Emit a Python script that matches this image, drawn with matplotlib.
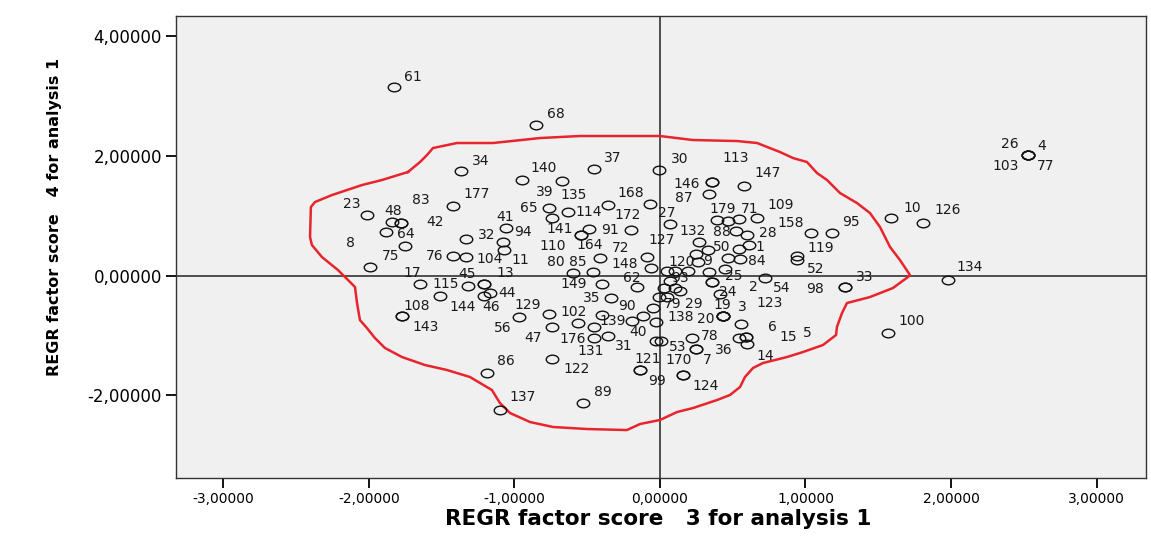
import numpy as np
import matplotlib.pyplot as plt
from matplotlib.path import Path
from matplotlib.transforms import Affine2D
from matplotlib.ticker import FixedLocator, FuncFormatter

# case numbers and their REGR factor scores (3 on x, 4 on y)
case_ids = ["61", "68", "34", "140", "39", "37", "30", "113", "146", "87", "147",
            "26", "4", "103", "77", "10", "126", "134", "100", "33", "98", "95",
            "158", "119", "52", "109", "71", "179", "88", "28", "132", "27", "127",
            "50", "1", "120", "9", "84", "25", "93", "2", "54", "24", "79", "29",
            "19", "3", "20", "123", "6", "138", "78", "15", "5", "14", "36", "7",
            "170", "124", "53", "40", "121", "99", "23", "48", "83", "42", "8",
            "64", "75", "17", "45", "115", "144", "46", "13", "44", "108", "143",
            "177", "76", "104", "32", "41", "94", "11", "65", "135", "114", "141",
            "164", "110", "168", "172", "91", "72", "80", "85", "148", "149", "62",
            "35", "90", "56", "129", "102", "139", "47", "176", "131", "31", "86",
            "122", "137", "89"]
score3 = [-1.83, -0.85, -1.37, -0.95, -0.67, -0.45, -0.01, 0.36, 0.36, 0.34, 0.58,
          2.53, 2.53, 2.53, 2.53, 1.59, 1.81, 1.98, 1.57, 1.27, 1.27, 1.18,
          1.04, 0.94, 0.94, 0.67, 0.54, 0.39, 0.52, 0.60, 0.27, 0.07, -0.09,
          0.33, 0.61, 0.25, 0.26, 0.55, 0.36, 0.07, 0.36, 0.72, 0.41, -0.05, 0.14,
          0.43, 0.43, 0.43, 0.43, 0.56, -0.03, 0.22, 0.59, 0.59, 0.60, 0.25, 0.25,
          0.16, 0.16, 0.01, -0.03, -0.14, -0.14, -2.01, -1.84, -1.78, -1.78, -1.88,
          -1.75, -1.99, -1.65, -1.32, -1.51, -1.21, -1.17, -1.21, -1.21, -1.77, -1.77,
          -1.42, -1.42, -1.33, -1.33, -1.06, -1.08, -1.07, -0.76, -0.74, -0.63, -0.49,
          -0.54, -0.54, -0.36, -0.07, -0.20, -0.41, -0.60, -0.46, -0.06, -0.40, -0.16,
          -0.34, -0.12, -0.97, -0.76, -0.40, -0.19, -0.74, -0.45, -0.45, -0.36, -1.19,
          -0.74, -1.10, -0.53]
score4 = [3.15, 2.52, 1.75, 1.60, 1.58, 1.78, 1.76, 1.56, 1.56, 1.36, 1.50,
          2.02, 2.02, 2.02, 2.02, 0.96, 0.88, -0.08, -0.96, -0.19, -0.19, 0.71,
          0.71, 0.33, 0.26, 0.96, 0.95, 0.93, 0.74, 0.68, 0.56, 0.86, 0.31,
          0.43, 0.51, 0.36, 0.23, 0.28, -0.11, -0.09, -0.11, -0.04, -0.31, -0.54, -0.26,
          -0.68, -0.68, -0.68, -0.68, -0.81, -0.78, -1.05, -1.03, -1.03, -1.15, -1.23, -1.23,
          -1.66, -1.66, -1.10, -1.10, -1.58, -1.58, 1.01, 0.90, 0.88, 0.88, 0.73,
          0.49, 0.14, -0.14, -0.18, -0.34, -0.34, -0.29, -0.14, -0.14, -0.68, -0.68,
          1.16, 0.33, 0.31, 0.61, 0.79, 0.56, 0.43, 1.13, 0.96, 1.06, 0.78,
          0.68, 0.68, 1.18, 1.20, 0.76, 0.29, 0.04, 0.06, 0.13, -0.14, -0.19,
          -0.38, -0.68, -0.69, -0.64, -0.66, -0.76, -0.86, -0.86, -1.05, -1.01, -1.63,
          -1.40, -2.25, -2.13]

# cases whose labels are hidden under their neighbours
hidden3 = [0.47, 0.54, 0.47, 0.45, 0.05, 0.10, 0.19, 0.34, 0.03, 0.10, -0.01, 0.05, 0.54, -0.56]
hidden4 = [0.91, 0.44, 0.29, 0.11, 0.08, 0.08, 0.08, 0.06, -0.21, -0.21, -0.36, -0.36, -1.05, -0.79]

# red outline drawn round the main cloud
outline3 = [-1.732, -1.649, -1.601, -1.560, -1.395, -1.148, -0.825, -0.550, 0.0, 0.227,
            0.529, 0.667, 0.825, 0.914, 1.010, 1.079, 1.148, 1.237, 1.354, 1.443,
            1.512, 1.581, 1.649, 1.704, 1.718, 1.704, 1.601, 1.443, 1.285, 1.251,
            1.216, 1.210, 1.120, 0.983, 0.873, 0.708, 0.639, 0.584, 0.550, 0.481,
            0.392, 0.227, 0.117, 0.0, -0.137, -0.227, -0.502, -0.735, -0.893, -1.031,
            -1.100, -1.155, -1.306, -1.464, -1.615, -1.773, -1.890, -1.959, -2.014, -2.062,
            -2.082, -2.096, -2.144, -2.213, -2.323, -2.392, -2.405, -2.399, -2.371, -2.254,
            -2.048, -1.911, -1.732]
outline4 = [1.731, 1.898, 2.015, 2.132, 2.216, 2.216, 2.299, 2.333, 2.333, 2.266,
            2.249, 2.216, 2.065, 1.965, 1.898, 1.714, 1.597, 1.380, 1.212, 1.045,
            0.811, 0.477, 0.259, 0.059, 0.008, -0.025, -0.209, -0.360, -0.460, -0.627,
            -0.861, -0.995, -1.162, -1.279, -1.363, -1.463, -1.547, -1.697, -1.865, -1.998,
            -2.082, -2.216, -2.283, -2.416, -2.483, -2.584, -2.567, -2.533, -2.450, -2.299,
            -2.132, -1.915, -1.697, -1.580, -1.497, -1.363, -1.212, -1.045, -0.878, -0.744,
            -0.460, -0.192, -0.075, 0.092, 0.309, 0.510, 0.644, 1.145, 1.229, 1.346,
            1.513, 1.597, 1.731]

xticks = [-3, -2, -1, 0, 1, 2, 3]
yticks = [-2, 0, 2, 4]

# where each case label sits, in pixels from its marker
label_offsets = {
    "61": (19, 10), "68": (20, 11), "34": (20, 10), "140": (22, 12), "39": (-18, -11),
    "37": (18, 11), "30": (21, 11), "113": (23, 24), "146": (-26, -2), "87": (-26, -4),
    "147": (23, 13), "26": (-18, 11), "4": (14, 9), "103": (-23, -11), "77": (17, -11),
    "10": (21, 10), "126": (24, 13), "134": (22, 13), "100": (23, 12), "33": (20, 10),
    "98": (-30, -2), "95": (19, 11), "158": (-21, 10), "119": (24, 8), "52": (19, -9),
    "109": (23, 13), "71": (11, 10), "179": (6, 11), "88": (-14, -1), "28": (21, 2),
    "132": (-7, 11), "27": (-3, 11), "127": (15, 17), "50": (14, 3), "1": (11, -2),
    "120": (-15, -8), "9": (10, 1), "84": (17, -2), "25": (21, 6), "93": (10, 3),
    "2": (41, -5), "54": (17, -10), "24": (8, 2), "79": (20, 4), "29": (13, -13),
    "19": (0, 11), "3": (20, 9), "20": (-17, -3), "123": (47, 13), "6": (31, -3),
    "138": (25, 5), "78": (18, 2), "15": (42, 0), "5": (61, 4), "14": (18, -12),
    "36": (27, -1), "7": (11, -11), "170": (-5, 15), "124": (22, -11), "53": (16, -6),
    "40": (-18, 9), "121": (8, 11), "99": (17, -11), "23": (-16, 11), "48": (1, 11),
    "83": (20, 23), "42": (34, 1), "8": (-36, -11), "64": (0, 12), "75": (20, 11),
    "17": (-8, 11), "45": (-1, 12), "115": (5, 12), "144": (-21, -11), "46": (1, -14),
    "13": (21, 11), "44": (23, -9), "108": (14, 10), "143": (23, -11), "177": (23, 12),
    "76": (-19, 0), "104": (23, -2), "32": (20, 4), "41": (-1, 11), "94": (20, 10),
    "11": (16, -10), "65": (-21, 0), "135": (21, 23), "114": (20, 0), "141": (-29, 0),
    "164": (8, -10), "110": (-29, -11), "168": (23, 12), "172": (-22, -11), "91": (-21, 0),
    "72": (20, 10), "80": (-17, 11), "85": (-15, 10), "148": (-27, 4), "149": (-28, 0),
    "62": (-5, 9), "35": (-19, 0), "90": (-16, 10), "56": (-16, -11), "129": (-22, 9),
    "102": (-28, 3), "139": (-20, 0), "47": (-19, -11), "176": (-22, -12), "131": (-4, -13),
    "31": (16, -10), "86": (19, 12), "122": (24, -10), "137": (23, 13), "89": (20, 11),
}

# slightly wide open ring, like the SPSS marker
circ = Path.unit_circle()
ring = Path(Affine2D().scale(1.45, 1.0).transform(circ.vertices), circ.codes)

fig = plt.figure(figsize=(11.51, 5.40), dpi=100)
ax = fig.add_axes([176 / 1151, 62 / 540, 970 / 1151, 462 / 540])
ax.set_facecolor("#f0f0f0")

ax.axhline(0, color="#333333", lw=1.2, zorder=1)
ax.axvline(0, color="#333333", lw=1.2, zorder=1)

ax.plot(outline3, outline4, color="#e8242c", lw=1.8, zorder=2)

ax.plot(score3 + hidden3, score4 + hidden4, linestyle="none", marker=ring,
        markersize=9, markerfacecolor="none", markeredgecolor="#111111",
        markeredgewidth=1.0, zorder=3)

for cid, sx, sy in zip(case_ids, score3, score4):
    dx, dy = label_offsets[cid]
    ax.annotate(cid, (sx, sy), xytext=(dx, dy), textcoords="offset pixels",
                ha="center", va="center", fontsize=10, color="#1a1a1a", zorder=4)

ax.set_xlim(-3.326, 3.340)
ax.set_ylim(-3.386, 4.34)
ax.xaxis.set_major_locator(FixedLocator(xticks))
ax.yaxis.set_major_locator(FixedLocator(yticks))
fmt = FuncFormatter(lambda v, p: f"{v:.5f}".replace(".", ","))
ax.xaxis.set_major_formatter(fmt)
ax.yaxis.set_major_formatter(fmt)
ax.tick_params(direction="out", length=7, width=1.3, pad=3)
ax.tick_params(axis="x", labelsize=10)
ax.tick_params(axis="y", labelsize=12)

for s in ax.spines.values():
    s.set_color("#333333")
    s.set_linewidth(1.0)

fig.text(658 / 1151, 1 - 519 / 540, "REGR factor score   3 for analysis 1",
         ha="center", va="center", fontsize=15.5, fontweight="bold")
fig.text(55 / 1151, 1 - 217 / 540, "REGR factor score   4 for analysis 1",
         ha="center", va="center", rotation=90, fontsize=11.5, fontweight="bold")

fig.savefig("out.png", dpi=100)
